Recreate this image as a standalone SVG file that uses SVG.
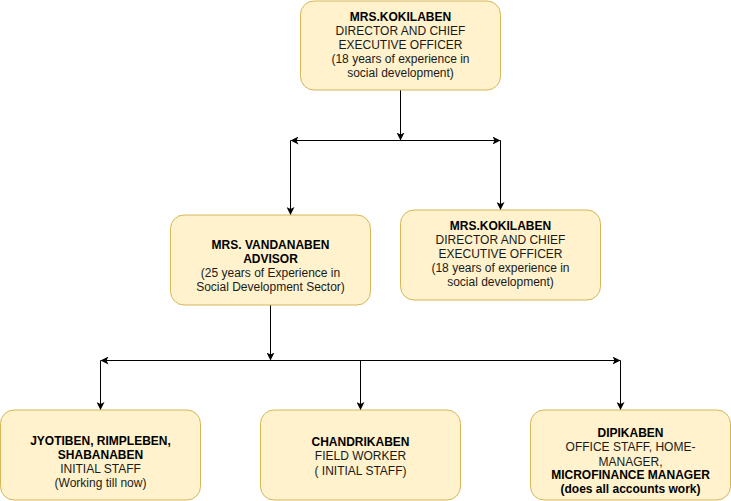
<svg xmlns="http://www.w3.org/2000/svg" width="731" height="501" viewBox="0 0 731 501">
<defs>
<marker id="arr" markerUnits="userSpaceOnUse" markerWidth="8" markerHeight="8" refX="7" refY="3.5" orient="auto-start-reverse" viewBox="0 0 7 7">
<path d="M0,0 L7,3.5 L0,7 L1.75,3.5 z" fill="#000"/>
</marker>
<style>
.box{fill:#fff2cc;stroke:#d6b656;stroke-width:1}
.t{font-family:"Liberation Sans",Arial,Helvetica,sans-serif;font-size:12px;fill:#1a1a1a;text-anchor:middle}
.b{font-weight:bold;fill:#000}
.c{fill:none;stroke:#000;stroke-width:1}
</style>
</defs>
<rect width="731" height="501" fill="#fff"/>
<g id="connectors">
<line class="c" x1="400.5" y1="90" x2="400.5" y2="140.5" marker-end="url(#arr)"/>
<line class="c" x1="290.5" y1="140.5" x2="500.5" y2="140.5" marker-start="url(#arr)" marker-end="url(#arr)"/>
<line class="c" x1="290.5" y1="140.5" x2="290.5" y2="215" marker-end="url(#arr)"/>
<line class="c" x1="500.5" y1="140.5" x2="500.5" y2="210" marker-end="url(#arr)"/>
<line class="c" x1="270.5" y1="305" x2="270.5" y2="360.5" marker-end="url(#arr)"/>
<line class="c" x1="100.5" y1="360.5" x2="620.5" y2="360.5" marker-start="url(#arr)" marker-end="url(#arr)"/>
<line class="c" x1="100.5" y1="360.5" x2="100.5" y2="410" marker-end="url(#arr)"/>
<line class="c" x1="360.5" y1="360.5" x2="360.5" y2="410" marker-end="url(#arr)"/>
<line class="c" x1="620.5" y1="360.5" x2="620.5" y2="410" marker-end="url(#arr)"/>
</g>
<g id="ceo">
<rect class="box" x="300.5" y="1" width="200" height="89" rx="13.5"/>
<text class="t b" x="400.5" y="20.5">MRS.KOKILABEN</text>
<text class="t" x="400.5" y="34.5">DIRECTOR AND CHIEF</text>
<text class="t" x="400.5" y="48.5">EXECUTIVE OFFICER</text>
<text class="t" x="400.5" y="62.5">(18 years of experience in</text>
<text class="t" x="400.5" y="76.5">social development)</text>
</g>
<g id="advisor">
<rect class="box" x="170.5" y="215" width="200" height="90" rx="13.5"/>
<text class="t b" x="270.5" y="248.5">MRS. VANDANABEN</text>
<text class="t b" x="270.5" y="262.5">ADVISOR</text>
<text class="t" x="270.5" y="276.5">(25 years of Experience in</text>
<text class="t" x="270.5" y="290.5">Social Development Sector)</text>
</g>
<g id="ceo2">
<rect class="box" x="400.5" y="210" width="200" height="90" rx="13.5"/>
<text class="t b" x="500.5" y="229.5">MRS.KOKILABEN</text>
<text class="t" x="500.5" y="243.5">DIRECTOR AND CHIEF</text>
<text class="t" x="500.5" y="257.5">EXECUTIVE OFFICER</text>
<text class="t" x="500.5" y="272">(18 years of experience in</text>
<text class="t" x="500.5" y="286">social development)</text>
</g>
<g id="initial-staff">
<rect class="box" x="0.5" y="410" width="200" height="90" rx="13.5"/>
<text class="t b" x="100.5" y="444.5">JYOTIBEN, RIMPLEBEN,</text>
<text class="t b" x="100.5" y="458.5">SHABANABEN</text>
<text class="t" x="100.5" y="472.5">INITIAL STAFF</text>
<text class="t" x="100.5" y="486.5">(Working till now)</text>
</g>
<g id="field-worker">
<rect class="box" x="260.5" y="410" width="200" height="90" rx="13.5"/>
<text class="t b" x="360.5" y="446">CHANDRIKABEN</text>
<text class="t" x="360.5" y="460">FIELD WORKER</text>
<text class="t" x="360.5" y="474.5">( INITIAL STAFF)</text>
</g>
<g id="office-staff">
<rect class="box" x="530.5" y="410" width="200" height="90" rx="13.5"/>
<text class="t b" x="630.5" y="437">DIPIKABEN</text>
<text class="t" x="630.5" y="451">OFFICE STAFF, HOME-</text>
<text class="t" x="630.5" y="465.5">MANAGER,</text>
<text class="t b" x="630.5" y="479">MICROFINANCE MANAGER</text>
<text class="t b" x="630.5" y="493">(does all accounts work)</text>
</g>
</svg>
